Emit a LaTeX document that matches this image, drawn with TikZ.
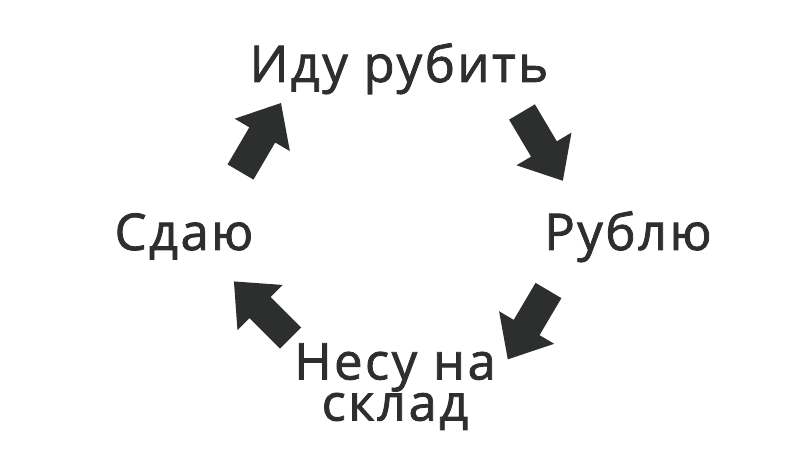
\documentclass[tikz,border=0pt]{standalone}
\usepackage{fontspec}
\usetikzlibrary{positioning}
\newfontfamily\stagefont{Open Sans}[FakeBold=1.6,LetterSpace=5]
\definecolor{ink}{RGB}{45,47,46}

\tikzset{
  stagetxt/.style={text=ink,inner sep=0pt,align=center,
    font=\stagefont\fontsize{38}{29.6}\selectfont},
  blockarr/.pic={
    \fill[ink] (0,-15) -- (43,-15) -- (43,-32) -- (80,0)
      -- (43,32) -- (43,15) -- (0,15) -- cycle;
  }
}

\begin{document}
\begin{tikzpicture}[x=0.75pt,y=0.75pt]
  \useasboundingbox (0,0) rectangle (800,-470);
  % stages of the cycle
  \node[stagetxt,anchor=base] (go) at (399,-82) {Иду рубить};
  \node[stagetxt,anchor=base] (chop) at (628,-250) {Рублю};
  \node[stagetxt,anchor=north] (carry) at (395,-343) {Несу на\\склад};
  \node[stagetxt,anchor=base] (hand) at (184,-250) {Сдаю};
  % arrows between stages
  \coordinate (a1) at (522,-112);
  \coordinate (a2) at (548.5,-290.5);
  \coordinate (a3) at (290.5,-338);
  \coordinate (a4) at (240.5,-172);
  \pic[rotate=-59.3] at (a1) {blockarr};
  \pic[rotate=-120.6] at (a2) {blockarr};
  \pic[rotate=135] at (a3) {blockarr};
  \pic[rotate=59.6] at (a4) {blockarr};
\end{tikzpicture}
\end{document}
